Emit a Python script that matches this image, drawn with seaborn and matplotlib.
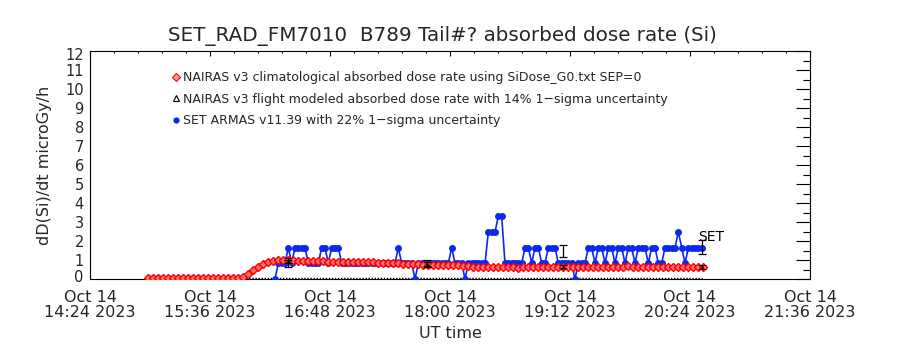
import numpy as np
import pandas as pd
import matplotlib
matplotlib.use("Agg")
import matplotlib.pyplot as plt
import matplotlib.dates as mdates
import matplotlib.transforms as mtransforms
from matplotlib.lines import Line2D
from matplotlib.ticker import FixedLocator, FuncFormatter, MultipleLocator
import seaborn as sns

# ---------------------------------------------------------------- data
T0 = pd.Timestamp("2023-10-14 14:24")
axis_span_min = 432            # 14:24 .. 21:36 UT
major_step_min = 72
minor_step_min = 14.4

# NAIRAS v3 climatological absorbed dose rate (microGy/h), 3-min samples from 14:59 UT
clim_start_min = 35
clim_step_min = 3
clim_rate = [
    0.04, 0.04, 0.05, 0.05, 0.05, 0.05, 0.05, 0.05, 0.05, 0.05,
    0.05, 0.05, 0.05, 0.05, 0.05, 0.05, 0.05, 0.06, 0.07,
    0.12, 0.28, 0.45, 0.62, 0.78, 0.88, 0.97,
    1.00, 1.00, 0.99, 0.98, 0.97, 0.96, 0.95, 0.95, 0.94, 0.93, 0.92,
    0.91, 0.90, 0.90, 0.89, 0.89, 0.88, 0.88, 0.87, 0.87, 0.86,
    0.86, 0.85, 0.84, 0.83,
    0.80, 0.79, 0.78, 0.77, 0.76, 0.76, 0.75, 0.75, 0.74, 0.74,
    0.73, 0.72, 0.70, 0.67,
    0.64, 0.63, 0.62, 0.62, 0.61, 0.61, 0.62, 0.62, 0.61, 0.60,
    0.61, 0.61, 0.62, 0.62, 0.63, 0.63, 0.62, 0.62, 0.63, 0.64,
    0.64, 0.63, 0.63, 0.64, 0.64, 0.65, 0.65, 0.64, 0.64, 0.65,
    0.65, 0.66, 0.65, 0.65, 0.64, 0.64, 0.65, 0.65, 0.64, 0.64,
    0.63, 0.63, 0.64, 0.64, 0.63, 0.63, 0.62,
]

# SET ARMAS v11.39 measured dose rate (microGy/h), 2-min samples from 16:15 UT
set_start_min = 111
set_step_min = 2
set_rate = [
    0.00, 0.83, 0.83, 0.83, 1.65, 0.83, 1.65, 1.65, 1.65, 1.65,
    0.83, 0.83, 0.83, 0.83, 1.65, 1.65, 0.83, 1.65, 1.65, 1.65,
    0.83, 0.83, 0.83, 0.83, 0.83, 0.83, 0.83, 0.83, 0.83, 0.83,
    0.83, 0.83, 0.83, 0.83, 0.83, 0.83, 0.83, 1.65, 0.83, 0.83,
    0.83, 0.83, 0.00, 0.83, 0.83, 0.83, 0.83, 0.83, 0.83, 0.83,
    0.83, 0.83, 0.83, 1.65, 0.83, 0.83, 0.83, 0.00, 0.83, 0.83,
    0.83, 0.83, 0.83, 0.83, 2.48, 2.48, 2.48, 3.30, 3.30, 0.83,
    0.83, 0.83, 0.83, 0.83, 0.83, 1.65, 1.65, 0.83, 1.65, 1.65,
    0.83, 0.83, 1.65, 1.65, 1.65, 0.83, 0.83, 0.83, 0.83, 0.83,
    0.00, 0.83, 0.83, 0.83, 1.65, 1.65, 0.83, 1.65, 1.65, 0.83,
    1.65, 1.65, 0.83, 1.65, 1.65, 0.83, 1.65, 1.65, 0.83, 1.65,
    1.65, 1.65, 0.83, 1.65, 1.65, 0.83, 0.83, 1.65, 1.65, 1.65,
    1.65, 2.48, 1.65, 0.83, 1.65, 1.65, 1.65, 1.65, 1.65,
]

# checkpoints carrying the 1-sigma uncertainty bars
chk_min = [119, 202, 284, 367]
model_rate = [0.97, 0.78, 0.65, 0.63]      # NAIRAS v3 flight modeled
model_sigma = 0.14
set_chk_rate = [0.83, 0.83, 1.46, 1.68]    # SET ARMAS
set_sigma = 0.22
model_floor = 0.06                         # flight-model trace along the floor

title = "SET_RAD_FM7010  B789 Tail#? absorbed dose rate (Si)"
legend_labels = [
    "NAIRAS v3 climatological absorbed dose rate using SiDose_G0.txt SEP=0",
    "NAIRAS v3 flight modeled absorbed dose rate with 14% 1\u2212sigma uncertainty",
    "SET ARMAS v11.39 with 22% 1\u2212sigma uncertainty",
]
y_ticks = list(range(0, 13))


def to_time(minutes):
    return T0 + pd.to_timedelta(np.asarray(minutes, dtype=float), unit="m")


clim_df = pd.DataFrame({
    "time": to_time(clim_start_min + clim_step_min * np.arange(len(clim_rate))),
    "rate": clim_rate,
})
set_df = pd.DataFrame({
    "time": to_time(set_start_min + set_step_min * np.arange(len(set_rate))),
    "rate": set_rate,
})
chk_time = to_time(chk_min)

# ---------------------------------------------------------------- style
sns.set_style("white")
plt.rcParams["font.family"] = ["DejaVu Sans"]
plt.rcParams["axes.linewidth"] = 0.8

RED = "#ff0000"
BLUE = "#0a28f0"

fig = plt.figure(figsize=(9, 3.5), dpi=100)
ax = fig.add_axes([90 / 900, 1 - 279 / 350, 720 / 900, 228 / 350])

# ---------------------------------------------------------------- marks
ax.hlines(model_floor, clim_df["time"].iloc[0], set_df["time"].iloc[-1],
          colors="black", linewidth=1.0, linestyles=(0, (1, 1.2)), zorder=2)

sns.lineplot(data=set_df, x="time", y="rate", ax=ax, estimator=None, sort=False,
             color=BLUE, linewidth=1.2, marker="o", markersize=5.0,
             markeredgewidth=0, markerfacecolor=BLUE, zorder=3)

sns.lineplot(data=clim_df, x="time", y="rate", ax=ax, estimator=None, sort=False,
             color=RED, linewidth=1.5, marker="D", markersize=3.8,
             markeredgewidth=1.0, markerfacecolor="#ff7070", markeredgecolor=RED,
             zorder=4)

ax.errorbar(chk_time, model_rate, yerr=np.array(model_rate) * model_sigma,
            fmt="^", ms=2.5, mfc="none", mec="black", mew=0.6,
            ecolor="black", elinewidth=0.9, capsize=2.6, capthick=0.9, zorder=5)
ax.errorbar(chk_time, set_chk_rate, yerr=np.array(set_chk_rate) * set_sigma,
            fmt="none", ecolor="black", elinewidth=0.9, capsize=2.6,
            capthick=0.9, zorder=5)

ax.text(set_df["time"].iloc[-1] - pd.Timedelta(minutes=2), 2.2, "SET",
        fontsize=10, ha="left", va="center", color="black", zorder=6)

# ---------------------------------------------------------------- axes
x_lo, x_hi = mdates.date2num(T0), mdates.date2num(T0 + pd.Timedelta(minutes=axis_span_min))
ax.set_xlim(x_lo, x_hi)
ax.set_ylim(0, 12)

major_x = [mdates.date2num(T0 + pd.Timedelta(minutes=m))
           for m in np.arange(0, axis_span_min + 1, major_step_min)]
minor_x = [mdates.date2num(T0 + pd.Timedelta(minutes=m))
           for m in np.arange(0, axis_span_min + 0.1, minor_step_min)]
ax.xaxis.set_major_locator(FixedLocator(major_x))
ax.xaxis.set_minor_locator(FixedLocator(minor_x))
ax.xaxis.set_major_formatter(FuncFormatter(
    lambda v, pos: mdates.num2date(v).strftime("%b %d\n%H:%M %Y")))

ax.set_yticks(y_ticks)
ax.yaxis.set_minor_locator(MultipleLocator(0.5))

ax.tick_params(axis="both", which="both", direction="in",
               top=True, right=True, color="black", width=0.8)
ax.tick_params(axis="x", which="major", length=3.3, pad=8, labelsize=11.5)
ax.tick_params(axis="x", which="minor", length=1.7)
ax.tick_params(axis="y", which="major", length=10.4, pad=4.5, labelsize=10.5)
ax.tick_params(axis="y", which="minor", length=5.2)
for lab in ax.get_xticklabels():
    lab.set_linespacing(1.0)

for s in ax.spines.values():
    s.set_visible(True)
    s.set_color("black")
    s.set_linewidth(0.8)

ax.set_xlabel("UT time", fontsize=11.5)
ax.set_ylabel("dD(Si)/dt microGy/h", fontsize=11.5)
ax.xaxis.set_label_coords(0.5, -(326 - 279) / 228)
ax.yaxis.set_label_coords((52 - 90) / 720, 0.5)

fig.text(442 / 900, 1 - 36 / 350, title, fontsize=14.3, ha="center", va="center")

handles = [
    Line2D([], [], linestyle="none", marker="D", ms=4, mfc="#f4a0a0", mec=RED, mew=0.8),
    Line2D([], [], linestyle="none", marker="^", ms=4.5, mfc="none", mec="black", mew=0.8),
    Line2D([], [], linestyle="none", marker="o", ms=4.5, mfc=BLUE, mec=BLUE, mew=0),
]
ax.legend(handles, legend_labels, loc="upper left",
          bbox_to_anchor=((172 - 90) / 720, (279 - 71) / 228),
          frameon=False, fontsize=9, handlelength=0.6, handletextpad=0.25,
          labelspacing=0.68, borderpad=0, borderaxespad=0)

# end labels of the dose axis sit just inside the frame
fig.canvas.draw()
for tick in ax.yaxis.get_major_ticks():
    v = tick.get_loc()
    if np.isclose(v, 0):
        shift = 2.5
    elif np.isclose(v, 12):
        shift = -2.5
    else:
        continue
    tick.label1.set_transform(tick.label1.get_transform() +
                              mtransforms.ScaledTranslation(0, shift / 72, fig.dpi_scale_trans))

fig.savefig("out.png", dpi=100, facecolor="white")
